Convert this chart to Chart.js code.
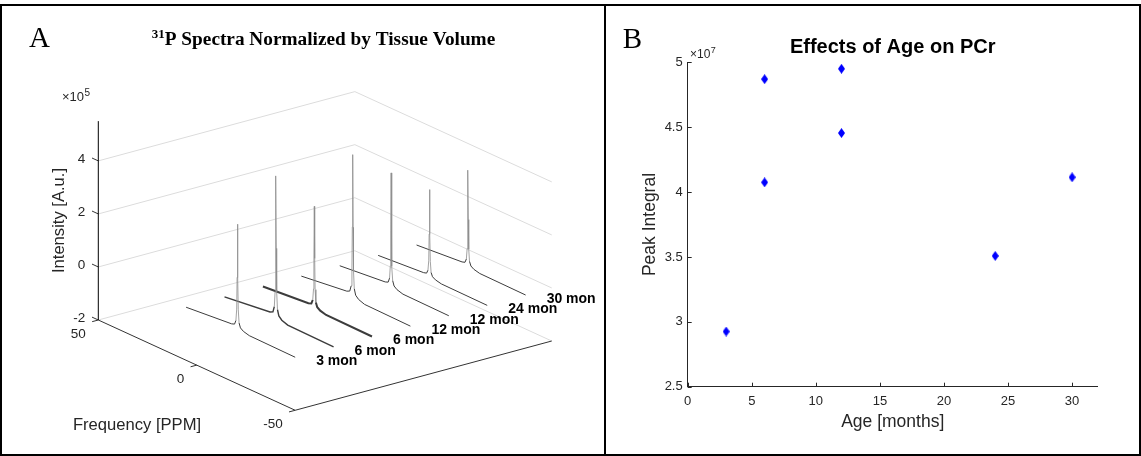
<!DOCTYPE html>
<html>
<head>
<meta charset="utf-8">
<script src="https://cdn.jsdelivr.net/npm/chart.js@4.4.1/dist/chart.umd.min.js"></script>
<style>
  body { margin: 0; background: #fff; }
  #fig { position: relative; width: 1141px; height: 456px; background: #fff; overflow: hidden; }
  #fig canvas { position: absolute; top: 0; }
  #panelA { left: 0; }
  #panelB { left: 607px; }
  .rule { position: absolute; background: #000; }
</style>
</head>
<body>
<div id="fig">
  <canvas id="panelA" width="605" height="456"></canvas>
  <canvas id="panelB" width="534" height="456"></canvas>
  <div class="rule" style="left:0;top:4px;width:1141px;height:2px"></div>
  <div class="rule" style="left:0;top:454px;width:1141px;height:2px"></div>
  <div class="rule" style="left:0;top:4px;width:2px;height:452px"></div>
  <div class="rule" style="left:604px;top:4px;width:2px;height:452px"></div>
  <div class="rule" style="left:1139px;top:4px;width:2px;height:452px"></div>
</div>
<script>
// PANEL A DATA - 31P spectra, one trace per animal
const ageLabels = ['3 mon', '6 mon', '6 mon', '12 mon', '12 mon', '24 mon', '30 mon'];
const peakHeights = [4.02, 5.45, 3.91, 5.47, 4.39, 3.37, 3.71];   // x10^5 A.u.
const pcrShift = -20.7;              // ppm
const spectrumRange = [5.4, -50];    // ppm, first and last sample
// sampled line shape around the PCr peak (ppm offset, fraction of peak height)
const lineOffsets = [3, 1.5, 0.8, 0.4, 0.2, 0, -0.2, -0.4, -0.8, -1.5, -3, -6];
const lineLevels = [0.04, 0.05, 0.09, 0.2, 0.5, 1, 0.5, 0.2, 0.08, 0.04, 0.02, 0.005];
const intensityTicks = [-2, 0, 2, 4];
const freqTicks = [50, 0, -50];

// PANEL B DATA - PCr peak integral vs age
const ageMonths = [3, 6, 6, 12, 12, 24, 30];
const peakIntegral = [2.925e7, 4.87e7, 4.075e7, 4.95e7, 4.455e7, 3.508e7, 4.114e7];
const ageTicks = [0, 5, 10, 15, 20, 25, 30];
const integralTicks = [2.5e7, 3e7, 3.5e7, 4e7, 4.5e7, 5e7];

// STYLE
const SANS = "'Liberation Sans', Arial, Helvetica, sans-serif";
const SERIF = "'Liberation Serif', 'Times New Roman', serif";
const AXIS_COLOR = '#262626';
const traceWidths = [1, 1.4, 2, 1, 1, 1, 1];   // noisier acquisitions look heavier

// 3D VIEW (same convention as matlab view(az, el))
const view = { az: -37.5, el: 20.6 };
const boxAspect = [1, 1, 0.657];
const lim = { x: [1, 7.68], y: [-50, 50], z: [-2, 5.5] };
const PX_PER_BOX = 323.4;
const cornerPx = { x: 98.3, y: 320 };

function project(depth, freq, z) {
    const X = (depth - lim.x[0]) / (lim.x[1] - lim.x[0]) * boxAspect[0];
    const Y = (freq - lim.y[0]) / (lim.y[1] - lim.y[0]) * boxAspect[1];
    const Z = (z - lim.z[0]) / (lim.z[1] - lim.z[0]) * boxAspect[2];
    const a = view.az * Math.PI / 180, e = view.el * Math.PI / 180;
    return {
        x: X * Math.cos(a) + Y * Math.sin(a),
        y: (-X * Math.sin(a) + Y * Math.cos(a)) * Math.sin(e) + Z * Math.cos(e)
    };
}

function spectrumPoints(i) {
    const depth = i + 1;
    const pts = [project(depth, spectrumRange[0], 0)];
    lineOffsets.forEach((d, j) => {
        pts.push(project(depth, pcrShift + d, peakHeights[i] * lineLevels[j]));
    });
    pts.push(project(depth, spectrumRange[1], 0));
    return pts;
}

// level of point k in a trace (0 for the two end samples)
function levelAt(k) {
    return (k === 0 || k > lineLevels.length) ? 0 : lineLevels[k - 1];
}
const isPeakSegment = ctx => Math.max(levelAt(ctx.p0DataIndex), levelAt(ctx.p1DataIndex)) > 0.15;

function lineSet(data, color, width, order) {
    return {
        data: data, showLine: true, borderColor: color, borderWidth: width,
        pointRadius: 0, tension: 0, fill: false, order: order
    };
}

function buildPanelA() {
    const datasets = [];

    // back wall gridlines
    intensityTicks.forEach(t => {
        datasets.push(lineSet([
            project(lim.x[0], lim.y[1], t),
            project(lim.x[1], lim.y[1], t),
            project(lim.x[1], lim.y[0], t)
        ], '#dcdcdc', 1, 5));
    });

    // spectra: thin light peak, heavier baseline
    ageLabels.forEach((lbl, i) => {
        const ds = lineSet(spectrumPoints(i), '#3c3c3c', traceWidths[i], 2);
        ds.segment = {
            borderColor: ctx => isPeakSegment(ctx) ? '#8c8c8c' : '#3c3c3c',
            borderWidth: ctx => isPeakSegment(ctx) ? 0.8 : traceWidths[i]
        };
        datasets.push(ds);
    });

    // axis lines
    datasets.push(lineSet([project(lim.x[0], lim.y[1], lim.z[0]), project(lim.x[0], lim.y[1], lim.z[1])], '#000', 1, 1));
    datasets.push(lineSet([project(lim.x[0], lim.y[1], lim.z[0]), project(lim.x[0], lim.y[0], lim.z[0])], '#333', 1, 1));
    datasets.push(lineSet([project(lim.x[0], lim.y[0], lim.z[0]), project(lim.x[1], lim.y[0], lim.z[0])], '#333', 1, 1));

    // tick marks
    intensityTicks.forEach(t => {
        datasets.push(lineSet([project(lim.x[0], lim.y[1], t), project(lim.x[0], lim.y[1] + 3.2, t)], '#333', 1, 1));
    });
    freqTicks.forEach(f => {
        datasets.push(lineSet([project(lim.x[0], f, lim.z[0]), project(lim.x[0] - 0.16, f, lim.z[0])], '#333', 1, 1));
    });

    // fit the projected box into the canvas
    const c = project(lim.x[0], lim.y[1], lim.z[0]);
    const xMin = c.x - cornerPx.x / PX_PER_BOX;
    const yMax = c.y + cornerPx.y / PX_PER_BOX;

    const textPlugin = {
        id: 'panelAText',
        afterDraw(chart) {
            const ctx = chart.ctx;
            const sx = chart.scales.x, sy = chart.scales.y;
            const px = p => ({ x: sx.getPixelForValue(p.x), y: sy.getPixelForValue(p.y) });
            ctx.save();
            ctx.fillStyle = AXIS_COLOR;

            // intensity tick labels
            ctx.font = '13.5px ' + SANS;
            ctx.textAlign = 'right';
            ctx.textBaseline = 'middle';
            intensityTicks.forEach(t => {
                const p = px(project(lim.x[0], lim.y[1], t));
                ctx.fillText(String(t), p.x - 13, p.y - 2);
            });
            // frequency tick labels
            freqTicks.forEach(f => {
                const p = px(project(lim.x[0], f, lim.z[0]));
                ctx.fillText(String(f), p.x - 12.5, p.y + 14);
            });

            // exponent
            ctx.textAlign = 'left';
            ctx.textBaseline = 'alphabetic';
            ctx.font = '13px ' + SANS;
            ctx.fillText('\u00d710', 62, 101);
            const w = ctx.measureText('\u00d710').width;
            ctx.font = '10px ' + SANS;
            ctx.fillText('5', 62 + w + 0.5, 95.5);

            // axis labels
            ctx.font = '16.6px ' + SANS;
            ctx.textAlign = 'center';
            ctx.textBaseline = 'middle';
            ctx.fillText('Frequency [PPM]', 137, 425.5);
            ctx.save();
            ctx.translate(59.3, 220.5);
            ctx.rotate(-Math.PI / 2);
            ctx.fillText('Intensity [A.u.]', 0, 0);
            ctx.restore();

            // age labels at the end of each trace
            ctx.fillStyle = '#000';
            ctx.font = 'bold 14px ' + SANS;
            ctx.textAlign = 'left';
            ageLabels.forEach((lbl, i) => {
                const p = px(project(i + 1, spectrumRange[1], 0));
                ctx.fillText(lbl, p.x + 21, p.y + 4);
            });

            // panel letter and title
            ctx.textBaseline = 'alphabetic';
            ctx.font = '29px ' + SERIF;
            ctx.fillText('A', 29, 47);
            ctx.font = 'bold 19.3px ' + SERIF;
            const main = 'P Spectra Normalized by Tissue Volume';
            const mainW = ctx.measureText(main).width;
            ctx.font = 'bold 13px ' + SERIF;
            const supW = ctx.measureText('31').width;
            const x0 = 323.5 - (mainW + supW) / 2;
            ctx.fillText('31', x0, 38);
            ctx.font = 'bold 19.3px ' + SERIF;
            ctx.fillText(main, x0 + supW, 45);
            ctx.restore();
        }
    };

    new Chart(document.getElementById('panelA'), {
        type: 'scatter',
        data: { datasets: datasets },
        options: {
            responsive: false,
            devicePixelRatio: 1,
            animation: false,
            events: [],
            layout: { padding: 0 },
            plugins: { legend: { display: false }, tooltip: { enabled: false } },
            scales: {
                x: { type: 'linear', display: false, min: xMin, max: xMin + 605 / PX_PER_BOX },
                y: { type: 'linear', display: false, min: yMax - 456 / PX_PER_BOX, max: yMax }
            }
        },
        plugins: [textPlugin]
    });
}

// filled diamond, taller than wide
function diamondMarker(w, h, color) {
    const c = document.createElement('canvas');
    c.width = w;
    c.height = h;
    const g = c.getContext('2d');
    g.fillStyle = color;
    g.beginPath();
    g.moveTo(w / 2, 0);
    g.lineTo(w, h / 2);
    g.lineTo(w / 2, h);
    g.lineTo(0, h / 2);
    g.closePath();
    g.fill();
    return c;
}

function buildPanelB() {
    const inwardTicks = {
        id: 'inwardTicks',
        afterDraw(chart) {
            const { ctx, chartArea, scales } = chart;
            ctx.save();
            ctx.strokeStyle = AXIS_COLOR;
            ctx.lineWidth = 1;
            ctx.beginPath();
            scales.x.ticks.forEach(t => {
                const x = Math.round(scales.x.getPixelForValue(t.value)) + 0.5;
                ctx.moveTo(x, chartArea.bottom);
                ctx.lineTo(x, chartArea.bottom - 4);
            });
            scales.y.ticks.forEach(t => {
                const y = Math.round(scales.y.getPixelForValue(t.value)) + 0.5;
                ctx.moveTo(chartArea.left, y);
                ctx.lineTo(chartArea.left + 4, y);
            });
            ctx.stroke();

            // title, panel letter, exponent
            ctx.fillStyle = '#000';
            ctx.textAlign = 'center';
            ctx.font = 'bold 20px ' + SANS;
            ctx.fillText('Effects of Age on PCr', (chartArea.left + chartArea.right) / 2, 52.5);
            ctx.textAlign = 'left';
            ctx.font = '29px ' + SERIF;
            ctx.fillText('B', 15.7, 47.5);
            ctx.fillStyle = AXIS_COLOR;
            ctx.font = '12px ' + SANS;
            ctx.fillText('\u00d710', 83, 58);
            const w = ctx.measureText('\u00d710').width;
            ctx.font = '9px ' + SANS;
            ctx.fillText('7', 83 + w + 0.5, 53);
            ctx.restore();
        }
    };

    new Chart(document.getElementById('panelB'), {
        type: 'scatter',
        data: {
            datasets: [{
                data: ageMonths.map((m, i) => ({ x: m, y: peakIntegral[i] })),
                pointStyle: diamondMarker(7, 10, '#0000ff'),
                pointRadius: 5
            }]
        },
        options: {
            responsive: false,
            devicePixelRatio: 1,
            animation: false,
            events: [],
            layout: { padding: { left: 28.5, top: 62.3, right: 43.3, bottom: 19.5 } },
            plugins: { legend: { display: false }, tooltip: { enabled: false } },
            scales: {
                x: {
                    type: 'linear', min: 0, max: 32,
                    afterBuildTicks: s => { s.ticks = ageTicks.map(v => ({ value: v })); },
                    afterFit: s => { s.height = 49.8; },
                    grid: { display: false, drawTicks: false },
                    border: { display: true, color: AXIS_COLOR, width: 1 },
                    ticks: { color: AXIS_COLOR, font: { family: SANS, size: 13 }, padding: 7, maxRotation: 0 },
                    title: { display: true, text: 'Age [months]', color: AXIS_COLOR, font: { family: SANS, size: 17.5 }, padding: { top: 4, bottom: 4 } }
                },
                y: {
                    type: 'linear', min: 2.5e7, max: 5e7,
                    afterBuildTicks: s => { s.ticks = integralTicks.map(v => ({ value: v })); },
                    afterFit: s => { s.width = 52.2; },
                    grid: { display: false, drawTicks: false },
                    border: { display: true, color: AXIS_COLOR, width: 1 },
                    ticks: { color: AXIS_COLOR, font: { family: SANS, size: 13 }, padding: 5, callback: v => String(v / 1e7) },
                    title: { display: true, text: 'Peak Integral', color: AXIS_COLOR, font: { family: SANS, size: 17.5 }, padding: { top: 4, bottom: 4 } }
                }
            }
        },
        plugins: [inwardTicks]
    });
}

// INITIALIZATION
buildPanelA();
buildPanelB();
</script>
</body>
</html>
